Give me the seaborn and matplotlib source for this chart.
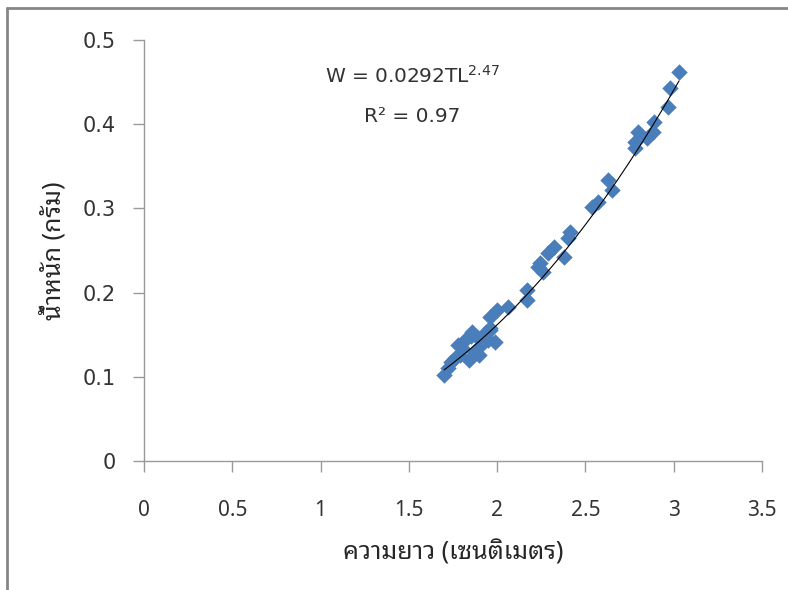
import numpy as np
import pandas as pd
import matplotlib
matplotlib.use('Agg')
import matplotlib.pyplot as plt
import seaborn as sns
from matplotlib import font_manager
from matplotlib.lines import Line2D

# total length (cm) and weight (g)
length_cm = [1.70, 1.72, 1.74, 1.76, 1.79, 1.80, 1.78, 1.82, 1.85, 1.86,
             1.89, 1.91, 1.87, 1.84, 1.93, 1.96, 1.95, 1.99, 1.90, 1.96,
             2.00, 1.96, 2.06, 2.17, 2.17, 2.23, 2.26, 2.24, 2.29, 2.32,
             2.38, 2.40, 2.41, 2.54, 2.57, 2.65, 2.63, 2.78, 2.78, 2.80,
             2.85, 2.88, 2.89, 2.97, 2.98, 3.03]
weight_g = [0.102, 0.110, 0.118, 0.122, 0.126, 0.134, 0.138, 0.144, 0.148, 0.153,
            0.146, 0.138, 0.129, 0.120, 0.152, 0.156, 0.144, 0.141, 0.126, 0.171,
            0.179, 0.158, 0.183, 0.191, 0.203, 0.230, 0.224, 0.235, 0.247, 0.254,
            0.242, 0.265, 0.272, 0.302, 0.308, 0.322, 0.334, 0.372, 0.379, 0.391,
            0.384, 0.391, 0.403, 0.420, 0.443, 0.462]

# power trend shown on the chart: W = a * TL^b
coef_a = 0.0292
coef_b = 2.47
r2 = 0.97

x_label = 'ความยาว (เซนติเมตร)'
y_label = 'น้ำหนัก (กรัม)'
x_ticks = [0, 0.5, 1, 1.5, 2, 2.5, 3, 3.5]
y_ticks = [0, 0.1, 0.2, 0.3, 0.4, 0.5]

# pick a Thai font that is installed
installed = {f.name for f in font_manager.fontManager.ttflist}
thai_font = 'Anuphan'
for name in ['Noto Sans Thai Looped', 'Noto Sans Thai', 'IBM Plex Sans Thai Looped',
             'Sarabun', 'Anuphan']:
    if name in installed:
        thai_font = name
        break

sns.set_style('white')
plt.rcParams['font.family'] = [thai_font, 'DejaVu Sans']
plt.rcParams['mathtext.default'] = 'regular'

df = pd.DataFrame({'TL': length_cm, 'W': weight_g})
trend = pd.DataFrame({'TL': np.linspace(min(length_cm), max(length_cm), 100)})
trend['W'] = coef_a * trend['TL'] ** coef_b

fig = plt.figure(figsize=(7.88, 5.90), dpi=100)
ax = fig.add_axes([0.1827, 0.2186, 0.7843, 0.7136])

sns.scatterplot(data=df, x='TL', y='W', marker='D', s=70, color='#4A7EBB',
                linewidth=0, ax=ax, zorder=2)
sns.lineplot(data=trend, x='TL', y='W', color='black', linewidth=0.8, ax=ax, zorder=3)

ax.set_xlim(0, 3.5)
ax.set_ylim(0, 0.5)
ax.set_xticks(x_ticks)
ax.set_yticks(y_ticks)
ax.set_xticklabels([f'{t:g}' for t in x_ticks], fontsize=15)
ax.set_yticklabels([f'{t:g}' for t in y_ticks], fontsize=15, family='DejaVu Sans')

for s in ['top', 'right']:
    ax.spines[s].set_visible(False)
for s in ['left', 'bottom']:
    ax.spines[s].set_color('#9a9a9a')
    ax.spines[s].set_linewidth(1)
ax.tick_params(axis='both', direction='out', length=8, width=1, color='#9a9a9a',
               labelcolor='#333333', left=True, bottom=True)
ax.tick_params(axis='x', pad=20)
ax.tick_params(axis='y', pad=12)

ax.set_xlabel(x_label, fontsize=18, fontweight='bold', labelpad=14)
ax.set_ylabel(y_label, fontsize=18, fontweight='bold', labelpad=12)

ax.text(1.52, 0.458, f'W = {coef_a}TL$^{{{coef_b}}}$', family='DejaVu Sans',
        ha='center', va='center', fontsize=14.5, color='#333333')
ax.text(1.52, 0.409, f'R² = {r2}', family='DejaVu Sans',
        ha='center', va='center', fontsize=14.5, color='#333333')

# grey chart-area border (left and top only visible)
fig.add_artist(Line2D([0.009, 0.009], [0, 0.986], color='#868686', lw=2))
fig.add_artist(Line2D([0.009, 1], [0.986, 0.986], color='#868686', lw=2))

fig.savefig('out.png', dpi=100)
